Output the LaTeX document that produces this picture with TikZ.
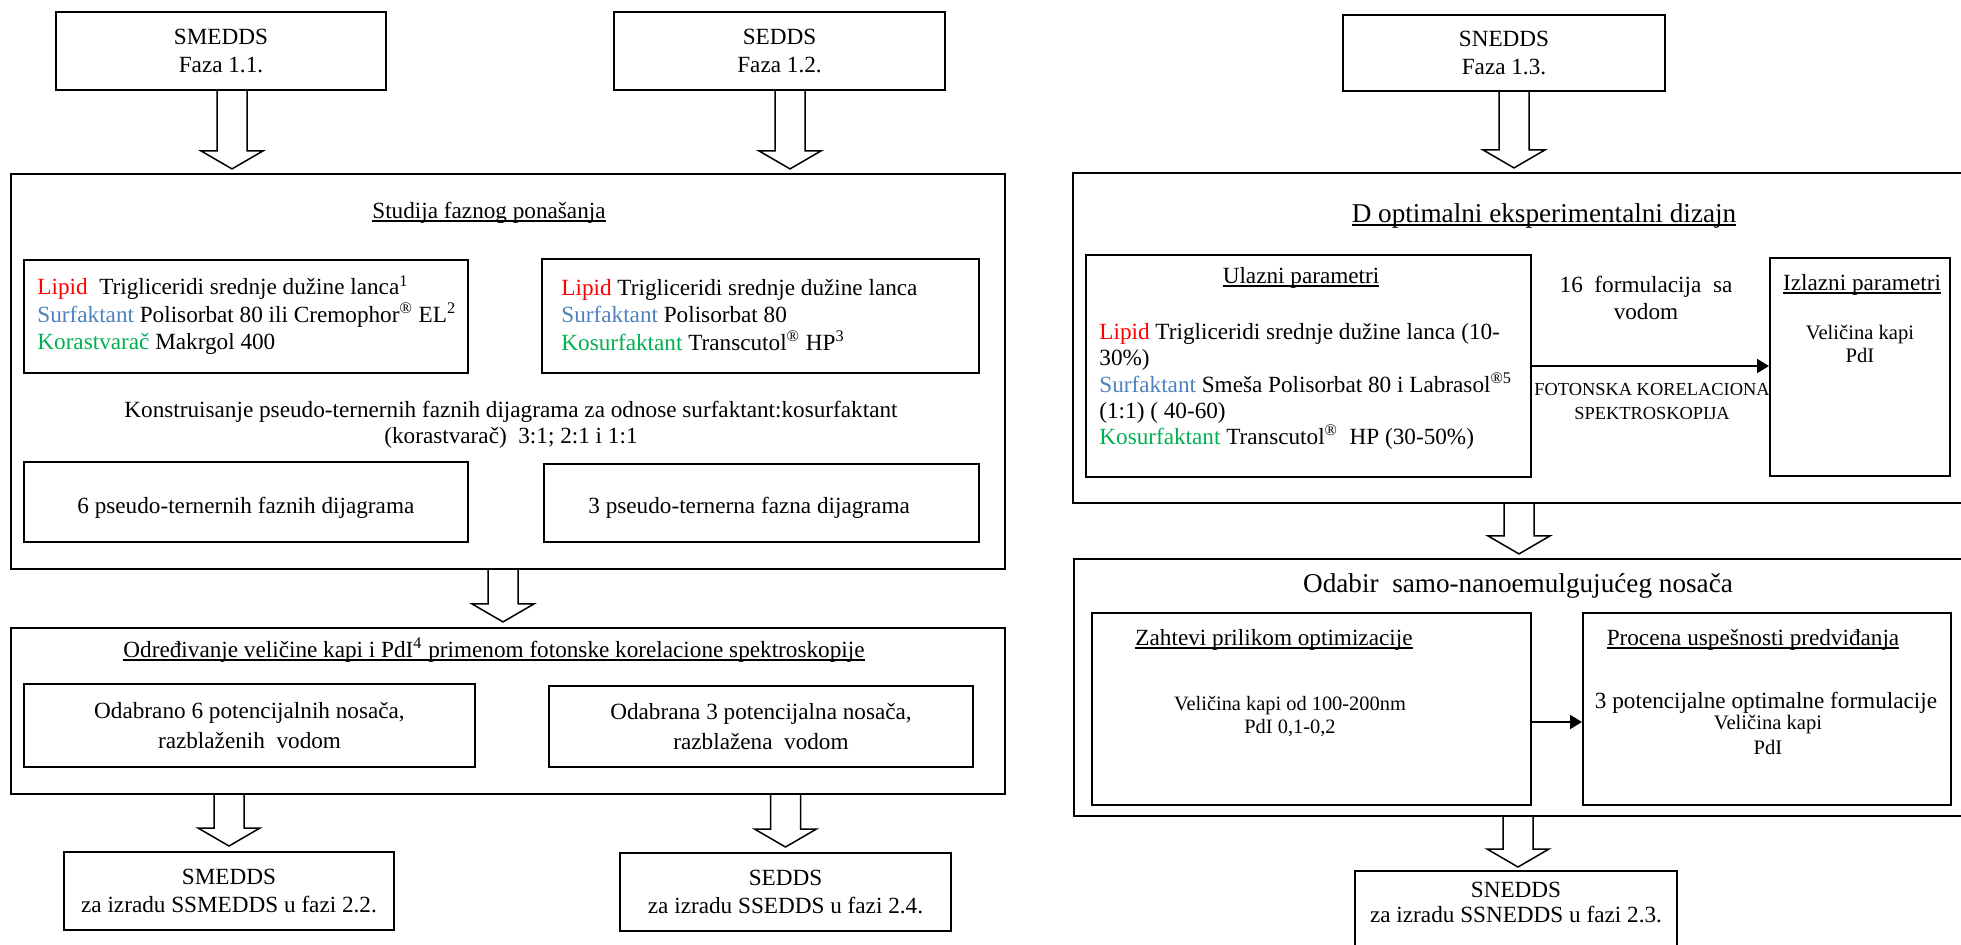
\documentclass[tikz,border=0pt]{standalone}
\usepackage{fontspec}
\setmainfont{Liberation Serif}
\usepackage{xcolor}
\usetikzlibrary{arrows.meta,positioning,calc}

\definecolor{lipidred}{RGB}{255,0,0}
\definecolor{surfblue}{RGB}{79,129,189}
\definecolor{cosolvgreen}{RGB}{0,176,80}

% underlined title text
\newsavebox{\ulbox}
\newcommand{\ulined}[1]{\sbox{\ulbox}{#1}\rlap{\rule[-1.8pt]{\wd\ulbox}{0.6pt}}\usebox{\ulbox}}

% hollow block arrow pointing down, from #1 to the height of #2
\newcommand{\hollowdown}[2]{%
  \draw[line width=0.75pt] let \p1=(#1), \p2=(#2) in
    (\x1-7.5pt,\y1) -- (\x1-7.5pt,\y2+9pt) -- (\x1-15.5pt,\y2+9pt) -- (\x1,\y2)
    -- (\x1+15.5pt,\y2+9pt) -- (\x1+7.5pt,\y2+9pt) -- (\x1+7.5pt,\y1);}

\begin{document}
\begin{tikzpicture}[x=0.5pt,y=-0.5pt,
  every node/.style={font=\fontsize{11.6}{13.75}\selectfont,inner sep=0pt},
  box/.style={rectangle,draw,line width=1pt,align=center},
  bigbox/.style={rectangle,draw,line width=1.1pt},
  note/.style={align=left,anchor=west},
  title/.style={anchor=base},
  head/.style={anchor=base,font=\fontsize{13.6}{16}\selectfont},
  flow/.style={line width=1pt,-{Triangle[length=6pt,width=7pt]}}]

\useasboundingbox (0,0) rectangle (1961,944);
\clip (0,0) rectangle (1961,944);

% left column
\node[box,minimum width=165pt,minimum height=39pt] (smedds) at (221,51) {SMEDDS\\Faza 1.1.};
\node[box,minimum width=165.5pt,minimum height=39pt] (sedds) at (779.5,51) {SEDDS\\Faza 1.2.};

\node[bigbox,minimum width=497pt,minimum height=197.5pt] (phase) at (508,371.5) {};
\node[title] (phasetitle) at (489,218) {\ulined{Studija faznog ponašanja}};
\node[box,minimum width=222pt,minimum height=56.5pt] (compA) at (246,316.5) {};
\node[note] (compAtext) at (37,315) {\textcolor{lipidred}{Lipid}\ \ Trigliceridi srednje dužine lanca\textsuperscript{1}\\
  \textcolor{surfblue}{Surfaktant} Polisorbat 80 ili Cremophor\textsuperscript{®} EL\textsuperscript{2}\\
  \textcolor{cosolvgreen}{Korastvarač} Makrgol 400};
\node[box,minimum width=218.5pt,minimum height=57pt] (compB) at (760.5,316) {};
\node[note] (compBtext) at (561,315) {\textcolor{lipidred}{Lipid} Trigliceridi srednje dužine lanca\\
  \textcolor{surfblue}{Surfaktant} Polisorbat 80\\
  \textcolor{cosolvgreen}{Kosurfaktant} Transcutol\textsuperscript{®} HP\textsuperscript{3}};
\node[align=center,font=\fontsize{11.6}{13}\selectfont] (ratios) at (511,424.5)
  {Konstruisanje pseudo-ternernih faznih dijagrama za odnose surfaktant:kosurfaktant\\(korastvarač)\ \ 3:1; 2:1 i 1:1};
\node[box,minimum width=222pt,minimum height=40pt] (diagA) at (246,502) {};
\node[anchor=west] (diagAtext) at (77,507.5) {6 pseudo-ternernih faznih dijagrama};
\node[box,minimum width=217.5pt,minimum height=39pt] (diagB) at (761.5,503) {};
\node[anchor=west] (diagBtext) at (588,507.5) {3 pseudo-ternerna fazna dijagrama};

\node[bigbox,minimum width=497pt,minimum height=83pt] (dls) at (508,711) {};
\node[title] (dlstitle) at (494,657) {\ulined{Određivanje veličine kapi i PdI\textsuperscript{4} primenom fotonske korelacione spektroskopije}};
\node[box,minimum width=225.5pt,minimum height=41.5pt,font=\fontsize{11.6}{15}\selectfont] (selA) at (249.5,725.5)
  {Odabrano 6 potencijalnih nosača,\\razblaženih\ \ vodom};
\node[box,minimum width=212pt,minimum height=40.5pt,font=\fontsize{11.6}{15}\selectfont] (selB) at (761,726.5)
  {Odabrana 3 potencijalna nosača,\\razblažena\ \ vodom};
\node[box,minimum width=165pt,minimum height=39pt] (smeddsout) at (229,891) {SMEDDS\\za izradu SSMEDDS u fazi 2.2.};
\node[box,minimum width=165.5pt,minimum height=39pt] (seddsout) at (785.5,892) {SEDDS\\za izradu SSEDDS u fazi 2.4.};

% right column
\node[box,minimum width=161pt,minimum height=38pt] (snedds) at (1504,53) {SNEDDS\\Faza 1.3.};

\node[bigbox,minimum width=451pt,minimum height=165pt] (doe) at (1524,338) {};
\node[head] (doetitle) at (1544,222) {\ulined{D optimalni eksperimentalni dizajn}};
\node[box,minimum width=222.5pt,minimum height=111pt] (inputs) at (1308.5,366) {};
\node[title] (inputstitle) at (1301,283) {\ulined{Ulazni parametri}};
\node[note,font=\fontsize{11.6}{13.1}\selectfont] (inputstext) at (1099,386.5)
  {\textcolor{lipidred}{Lipid} Trigliceridi srednje dužine lanca (10-\\30\%)\\
   \textcolor{surfblue}{Surfaktant} Smeša Polisorbat 80 i Labrasol\textsuperscript{®5}\\(1:1) ( 40-60)\\
   \textcolor{cosolvgreen}{Kosurfaktant} Transcutol\textsuperscript{®}\ \ HP (30-50\%)};
\node[align=center] (runs) at (1646,298) {16\ \ formulacija\ \ sa\\vodom};
\node[box,minimum width=90pt,minimum height=109pt] (outputs) at (1860,367) {};
\node[title] (outputstitle) at (1862,290) {\ulined{Izlazni parametri}};
\node[align=center,font=\fontsize{10.3}{11.5}\selectfont] (outputstext) at (1860,343.5) {Veličina kapi\\PdI};
\node[align=center,font=\fontsize{9.2}{12}\selectfont] (pcs) at (1652,401) {FOTONSKA KORELACIONA\\SPEKTROSKOPIJA};

\node[bigbox,minimum width=450.5pt,minimum height=128.5pt] (choice) at (1524.5,687.5) {};
\node[head] (choicetitle) at (1518,592) {Odabir\ \ samo-nanoemulgujućeg nosača};
\node[box,minimum width=219.5pt,minimum height=96pt] (reqs) at (1311.5,709) {};
\node[title] (reqstitle) at (1274,645) {\ulined{Zahtevi prilikom optimizacije}};
\node[align=center,font=\fontsize{10.2}{11.5}\selectfont] (reqstext) at (1290,716) {Veličina kapi od 100-200nm\\PdI 0,1-0,2};
\node[box,minimum width=184pt,minimum height=96pt] (check) at (1767,709) {};
\node[title] (checktitle) at (1753,645) {\ulined{Procena uspešnosti predviđanja}};
\node[title] (checktext) at (1766,708) {3 potencijalne optimalne formulacije};
\node[align=center,font=\fontsize{10.3}{12.5}\selectfont] (checkvals) at (1768,735) {Veličina kapi\\PdI};
\node[box,minimum width=161pt,minimum height=45pt] (sneddsout) at (1516,916) {};
\node[align=center,font=\fontsize{11.6}{12.5}\selectfont] (sneddsouttext) at (1516,902.5) {SNEDDS\\za izradu SSNEDDS u fazi 2.3.};

% connectors
\hollowdown{[xshift=5.5pt]smedds.south}{[yshift=2pt]phase.north}
\hollowdown{[xshift=5.25pt]sedds.south}{[yshift=2pt]phase.north}
\hollowdown{[xshift=-2.5pt]phase.south}{[yshift=2.5pt]dls.north}
\hollowdown{dls.south -| smeddsout}{[yshift=2.5pt]smeddsout.north}
\hollowdown{dls.south -| seddsout}{[yshift=2.5pt]seddsout.north}
\hollowdown{[xshift=5pt]snedds.south}{[yshift=2pt]doe.north}
\hollowdown{[xshift=-2.5pt]doe.south}{[yshift=2pt]choice.north}
\hollowdown{[xshift=-3.25pt]choice.south}{[yshift=1.5pt]sneddsout.north}

\draw[flow] (inputs.east) -- (inputs.east -| outputs.west);
\draw[flow] ([yshift=-6.5pt]reqs.east) -- ([yshift=-6.5pt]reqs.east -| check.west);
\end{tikzpicture}
\end{document}
